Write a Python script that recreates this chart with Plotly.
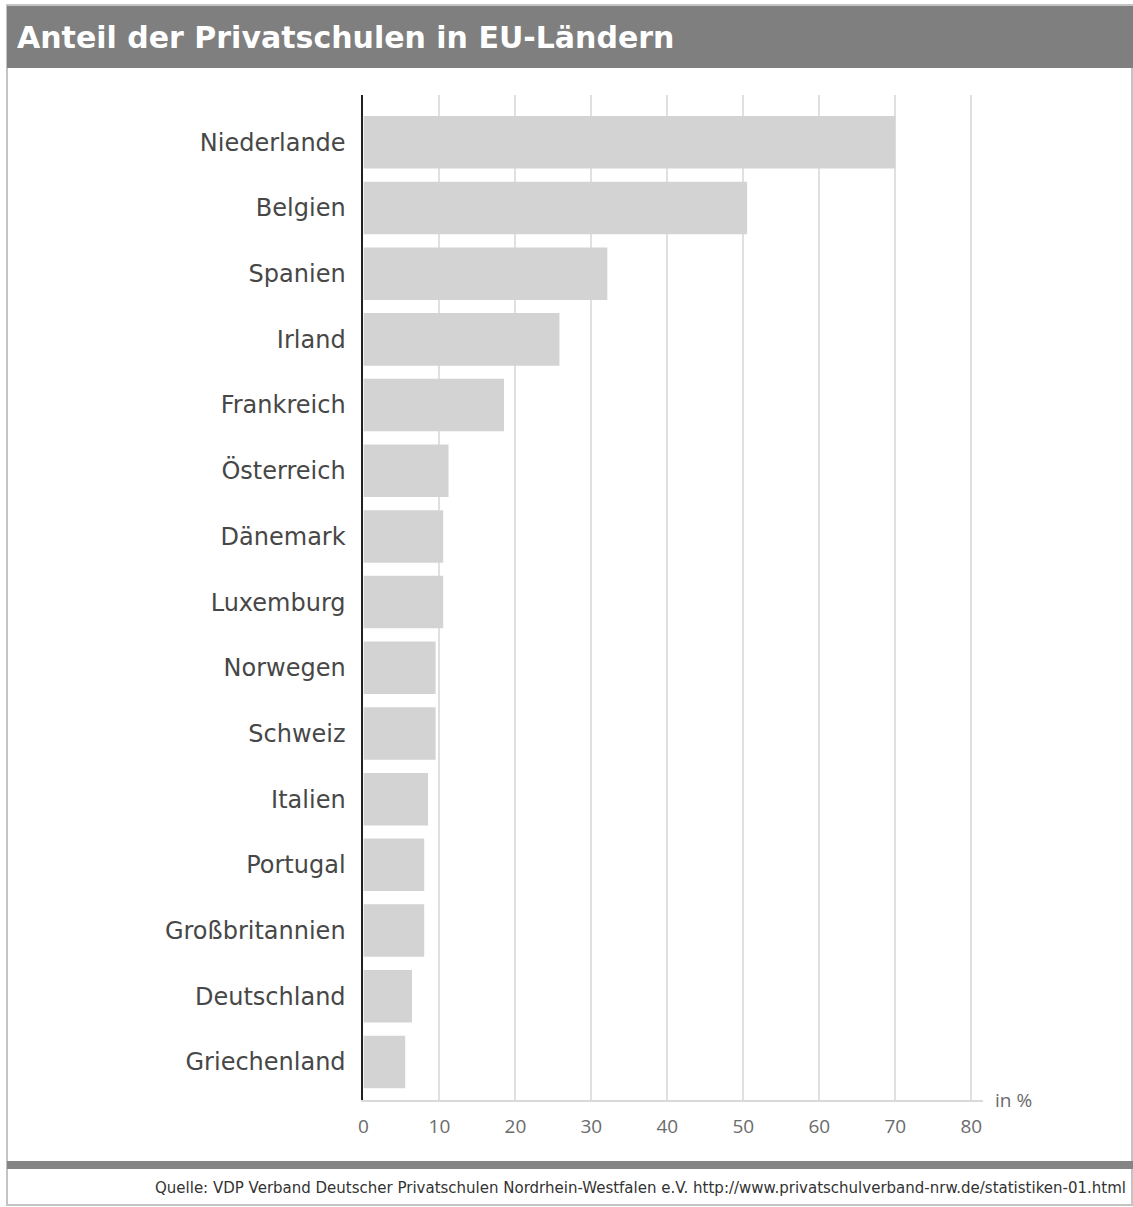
import plotly.graph_objects as go

countries = ["Niederlande", "Belgien", "Spanien", "Irland", "Frankreich", "Österreich",
             "Dänemark", "Luxemburg", "Norwegen", "Schweiz", "Italien", "Portugal",
             "Großbritannien", "Deutschland", "Griechenland"]
shares = [70.0, 50.5, 32.1, 25.8, 18.5, 11.2, 10.5, 10.5, 9.5, 9.5, 8.5, 8.0, 8.0, 6.4, 5.5]
x_ticks = [0, 10, 20, 30, 40, 50, 60, 70, 80]

title_text = "Anteil der Privatschulen in EU-Ländern"
source_text = ("Quelle: VDP Verband Deutscher Privatschulen Nordrhein-Westfalen e.V. "
               "http://www.privatschulverband-nrw.de/statistiken-01.html")

W, H = 1133, 1207

fig = go.Figure(go.Bar(
    x=shares, y=countries, orientation="h",
    marker=dict(color="#d3d3d3", line=dict(width=0)),
    width=0.8, hoverinfo="x+y",
))

def px_x(p):
    return p / W

def px_y(p):
    return 1 - p / H

fig.update_layout(
    width=W, height=H,
    margin=dict(l=0, r=0, t=0, b=0),
    paper_bgcolor="white", plot_bgcolor="white",
    showlegend=False,
    font=dict(family="DejaVu Sans", color="#444444"),
    xaxis=dict(
        domain=[px_x(360), px_x(982)],
        range=[0, 81.5],
        tickvals=x_ticks, ticktext=[str(v) for v in x_ticks],
        showgrid=True, gridcolor="#e0e0e0", gridwidth=2,
        zeroline=False,
        showline=True, linecolor="#d9d9d9", linewidth=2,
        ticks="", ticklabelstandoff=8,
        tickfont=dict(family="Open Sans", size=19, color="#6b6b6b"),
        fixedrange=True,
    ),
    yaxis=dict(
        domain=[px_y(1100), px_y(95)],
        type="category",
        categoryorder="array", categoryarray=countries,
        range=[14.58, -0.72],
        showgrid=False, zeroline=False,
        showline=True, linecolor="#222222", linewidth=2,
        ticks="", ticklabelstandoff=11,
        tickfont=dict(family="DejaVu Sans", size=24, color="#474747"),
        fixedrange=True,
    ),
    shapes=[
        dict(type="rect", xref="paper", yref="paper",
             x0=px_x(2), x1=px_x(1132), y0=px_y(1205), y1=px_y(5),
             line=dict(color="#c4c4c4", width=2), fillcolor="rgba(0,0,0,0)", layer="below"),
        dict(type="rect", xref="paper", yref="paper",
             x0=px_x(2), x1=px_x(1133), y0=px_y(68), y1=px_y(6),
             line=dict(width=0), fillcolor="#7f7f7f", layer="below"),
        dict(type="rect", xref="paper", yref="paper",
             x0=px_x(2), x1=px_x(1133), y0=px_y(1169), y1=px_y(1161),
             line=dict(width=0), fillcolor="#858585", layer="below"),
    ],
    annotations=[
        dict(text=title_text, xref="paper", yref="paper",
             x=px_x(10), y=px_y(37), xanchor="left", yanchor="middle",
             showarrow=False,
             font=dict(family="DejaVu Sans", size=30, color="white", weight="bold")),
        dict(text="in %", xref="x domain", yref="y domain",
             x=1, y=0, xanchor="left", yanchor="middle", xshift=10,
             showarrow=False,
             font=dict(family="Open Sans", size=19, color="#6b6b6b")),
        dict(text=source_text, xref="paper", yref="paper",
             x=px_x(1128), y=px_y(1188), xanchor="right", yanchor="middle",
             showarrow=False,
             font=dict(family="DejaVu Sans", size=15, color="#333333")),
    ],
)

fig.write_html("out.html", config={"displayModeBar": False},
               post_script="document.body.style.margin='0px';")
